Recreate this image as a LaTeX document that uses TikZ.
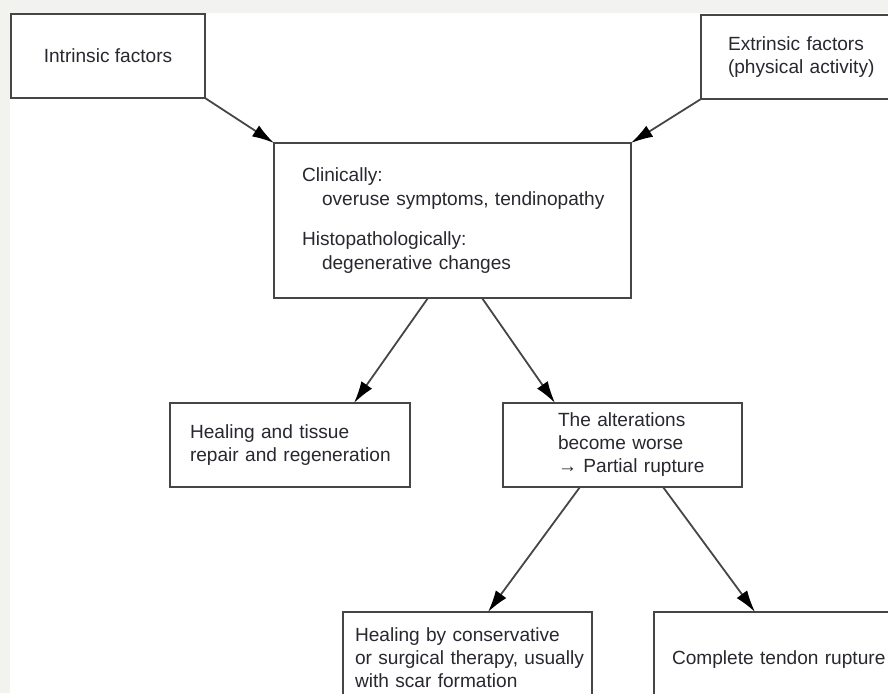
\documentclass[tikz,border=0pt]{standalone}
\usepackage{fontspec}
\setmainfont{Liberation Sans}
\usetikzlibrary{arrows.meta}

\definecolor{bggray}{RGB}{242,242,238}
\definecolor{boxline}{RGB}{70,70,70}
\definecolor{inkgray}{RGB}{40,40,48}
\hyphenpenalty=10000

\begin{document}
\begin{tikzpicture}[x=1pt, y=-1pt,
    every node/.style = {font=\fontsize{19.1}{23}\selectfont, text=inkgray},
    box/.style = {draw=boxline, line width=1.8pt, anchor=north west,
        align=left, inner ysep=0pt, outer sep=0pt},
    link/.style = {color=boxline, line width=1.8pt,
        -{Latex[length=22pt, width=13pt, color=black, fill=black]}}]
    \useasboundingbox (0,0) rectangle (888,693);
    \fill [bggray] (0,0) rectangle (888,693);
    \fill [white] (10,13) rectangle (888,693);
    \clip (10,13) rectangle (888,693);

    % top row
    \node (intr) [box, align=center, minimum width=194pt,
        minimum height=84pt] at (11,14) {Intrinsic factors};
    \node (extr) [box, minimum height=84pt, text width=160pt,
        inner xsep=27pt] at (701,15) {Extrinsic~factors\\(physical~activity)};

    % middle
    \node (cent) [box, minimum height=155pt, text width=301pt,
        inner xsep=28pt, font=\fontsize{19.1}{24.5}\selectfont] at (274,143)
        {Clinically:\\\hspace*{20pt}overuse~symptoms,~tendinopathy\\[15pt]%
        Histopathologically:\\\hspace*{20pt}degenerative~changes};
    \node (heal) [box, minimum height=84pt, text width=200pt,
        inner xsep=20pt] at (170,403) {Healing~and~tissue\\repair~and~regeneration};
    \node (alter) [box, minimum height=84pt, text width=129pt,
        inner xsep=55pt] at (503,403)
        {The~alterations\\become~worse\\→~Partial~rupture};

    % bottom row
    \node (cons) [box, minimum height=92pt, text width=225pt,
        inner xsep=12pt] at (343,612)
        {Healing~by~conservative\\or~surgical~therapy,~usually\\with~scar~formation};
    \node (compl) [box, minimum height=96pt, text width=230pt,
        inner xsep=18pt] at (654,612) {Complete~tendon~rupture};

    \path [link]
        (intr.south east) edge (cent.north west)
        (extr.south west) edge (cent.north east)
        ([xshift=-24.5pt]cent.south) edge ([xshift=64pt]heal.north)
        ([xshift=29.5pt]cent.south) edge ([xshift=-67.5pt]alter.north)
        ([xshift=-42.5pt]alter.south) edge ([xshift=20.5pt]cons.north)
        ([xshift=40.5pt]alter.south) edge ([xshift=-32pt]compl.north);
\end{tikzpicture}
\end{document}
